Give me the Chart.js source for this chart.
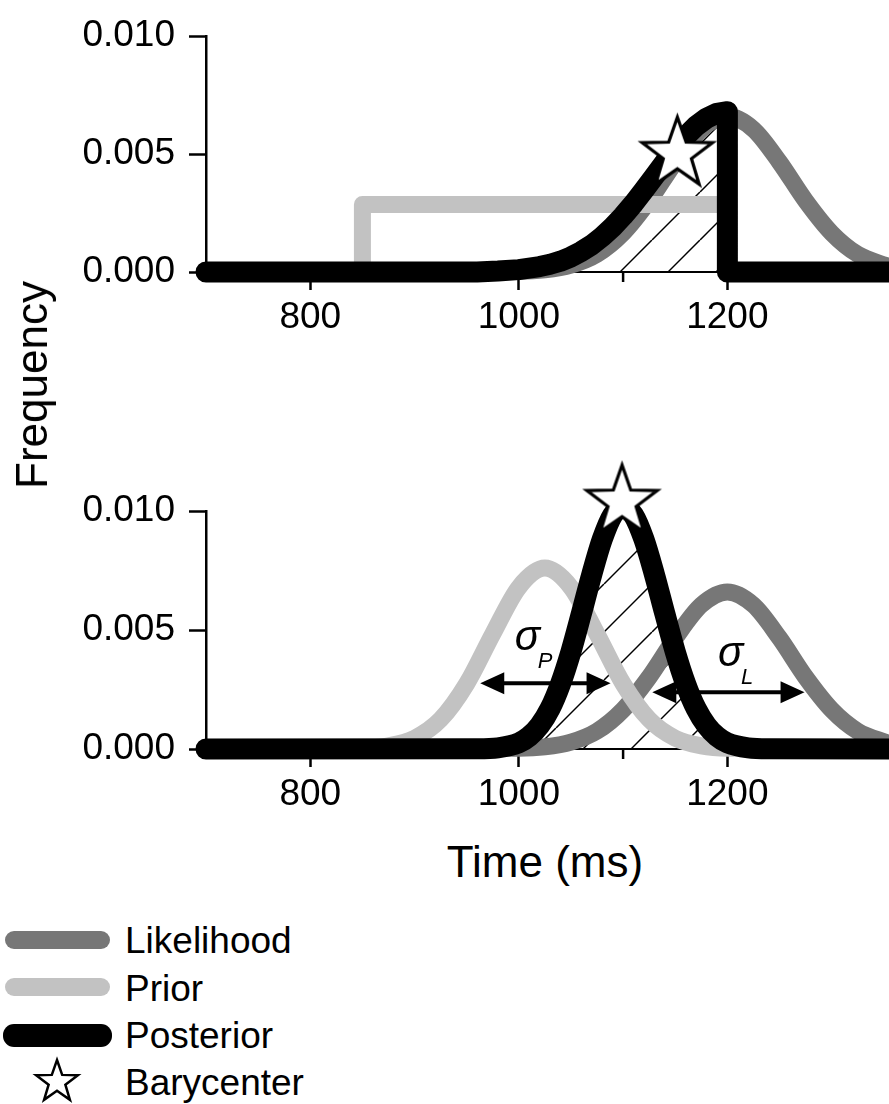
<!DOCTYPE html>
<html>
<head>
<meta charset="utf-8">
<script src="https://cdn.jsdelivr.net/npm/chart.js@4.4.1/dist/chart.umd.min.js"></script>
<style>
  html, body { margin: 0; padding: 0; background: #fff; overflow: hidden; }
  body { width: 889px; height: 1104px; position: relative; font-family: "Liberation Sans", Arial, sans-serif; color: #000; }
  canvas { position: absolute; left: 0; }
  #arriba { top: 0; }
  #abajo { top: 440px; }
  .titulo { position: absolute; white-space: nowrap; line-height: 1; font-size: 44px; }
  #ytitulo { left: 32px; top: 385px; transform: translate(-50%, -50%) rotate(-90deg); }
  #xtitulo { left: 545px; top: 840px; transform: translateX(-50%); }
  .muestra { position: absolute; }
  .leyenda { position: absolute; left: 125px; font-size: 37px; line-height: 37px; white-space: nowrap; }
</style>
</head>
<body>
<canvas id="arriba" width="889" height="340"></canvas>
<canvas id="abajo" width="889" height="377"></canvas>
<div class="titulo" id="ytitulo">Frequency</div>
<div class="titulo" id="xtitulo">Time (ms)</div>

<div class="muestra" style="left:5px;top:931px;width:105px;height:18px;border-radius:9px;background:#777"></div>
<div class="muestra" style="left:5px;top:978px;width:105px;height:18px;border-radius:9px;background:#c2c2c2"></div>
<div class="muestra" style="left:3px;top:1024px;width:109px;height:23px;border-radius:11px;background:#000"></div>
<div class="leyenda" style="top:922px">Likelihood</div>
<div class="leyenda" style="top:970px">Prior</div>
<div class="leyenda" style="top:1017px">Posterior</div>
<div class="leyenda" style="top:1064px">Barycenter</div>

<script>
// Ejes
const X_TICKS = [800, 1000, 1200];
const X_MENORES = [900, 1100, 1300];
const Y_TICKS = [0, 0.005, 0.01];

// Panel de arriba: prior uniforme
const arribaPriorX = [700, 850, 850, 1200, 1200, 1355];
const arribaPriorY = [0, 0, 0.00286, 0.00286, 0, 0];

// Verosimilitud (igual en los dos paneles)
const likX = [700, 1000, 1025, 1050, 1075, 1100, 1125, 1150, 1175, 1200, 1225, 1250, 1275, 1300, 1325, 1355];
const likY = [0, 0.00003, 0.00009, 0.00029, 0.00075, 0.00165, 0.00302, 0.00466, 0.00605, 0.0066, 0.00605, 0.00466, 0.00302, 0.00165, 0.00075, 0.00023];

// Panel de arriba: posterior (cortada en 1200)
const arribaPostX = [700, 960, 980, 1000, 1020, 1030, 1040, 1050, 1060, 1070, 1080, 1090, 1100, 1110, 1120, 1130, 1140, 1150, 1160, 1170, 1180, 1190, 1200, 1200, 1355];
const arribaPostY = [0, 0, 0.00004, 0.0001, 0.00023, 0.00033, 0.00046, 0.00064, 0.00087, 0.00115, 0.0015, 0.00191, 0.00238, 0.0029, 0.00347, 0.00406, 0.00466, 0.00523, 0.00575, 0.00619, 0.00652, 0.00673, 0.0068, 0, 0];

// Panel de abajo: prior gaussiano
const abajoPriorX = [700, 850, 875, 900, 925, 950, 975, 1000, 1025, 1050, 1075, 1100, 1125, 1150, 1175, 1200, 1355];
const abajoPriorY = [0, 0.00003, 0.00013, 0.00045, 0.00124, 0.00274, 0.00483, 0.00679, 0.0076, 0.00679, 0.00483, 0.00274, 0.00124, 0.00045, 0.00013, 0.00003, 0];

// Panel de abajo: posterior
const abajoPostX = [700, 960, 980, 1000, 1010, 1020, 1030, 1040, 1050, 1060, 1070, 1080, 1090, 1100, 1110, 1120, 1130, 1140, 1150, 1160, 1170, 1180, 1190, 1200, 1220, 1240, 1355];
const abajoPostY = [0, 0.00001, 0.00005, 0.00026, 0.00053, 0.00099, 0.0017, 0.00274, 0.00409, 0.00569, 0.00734, 0.00881, 0.00983, 0.0102, 0.00983, 0.00881, 0.00734, 0.00569, 0.00409, 0.00274, 0.0017, 0.00099, 0.00053, 0.00026, 0.00005, 0.00001, 0];

// Baricentros
const arribaBaricentro = [{ x: 1152, y: 0.0050 }];
const abajoBaricentro = [{ x: 1099, y: 0.01038 }];

// Flechas sigma (abajo)
const flechasX1 = [963, 1128];
const flechasX2 = [1088, 1274];
const flechasY = [0.00276, 0.00238];
const sigmaSub = ['P', 'L'];
const sigmaX = [996, 1191];
const sigmaY = [0.00414, 0.00347];

const FUENTE = '"Liberation Sans", Arial, sans-serif';

function pares(xs, ys) {
    return xs.map((x, i) => ({ x: x, y: ys[i] }));
}

// Estrella de cinco puntas para el baricentro
function hacerEstrella(R, lw) {
    const size = Math.ceil(2 * R + 4 * lw + 4);
    const c = document.createElement('canvas');
    c.width = c.height = size;
    const ctx = c.getContext('2d');
    const cx = size / 2, cy = size / 2;
    const r = R * 0.4;
    ctx.beginPath();
    for (let i = 0; i < 10; i++) {
        const rad = i % 2 === 0 ? R : r;
        const a = -Math.PI / 2 + i * Math.PI / 5;
        ctx.lineTo(cx + rad * Math.cos(a), cy + rad * Math.sin(a));
    }
    ctx.closePath();
    ctx.fillStyle = '#fff';
    ctx.fill();
    ctx.lineWidth = lw;
    ctx.lineJoin = 'miter';
    ctx.strokeStyle = '#000';
    ctx.stroke();
    return c;
}

// Rayado diagonal del area bajo la posterior
function hacerRayado(ctxDestino, fase) {
    const p = 48;
    const c = document.createElement('canvas');
    c.width = c.height = p;
    const ctx = c.getContext('2d');
    ctx.strokeStyle = '#000';
    ctx.lineWidth = 1.5;
    for (let s = fase - p; s <= fase + 2 * p; s += p) {
        ctx.beginPath();
        ctx.moveTo(s, 0);
        ctx.lineTo(s - p, p);
        ctx.stroke();
    }
    return ctxDestino.createPattern(c, 'repeat');
}

const marcasMenores = {
    id: 'marcasMenores',
    beforeDatasetsDraw(chart) {
        const ctx = chart.ctx, xs = chart.scales.x, y0 = chart.chartArea.bottom;
        ctx.save();
        ctx.strokeStyle = '#000';
        ctx.lineWidth = 2.5;
        X_MENORES.forEach(v => {
            const x = xs.getPixelForValue(v);
            ctx.beginPath();
            ctx.moveTo(x, y0);
            ctx.lineTo(x, y0 + 10);
            ctx.stroke();
        });
        ctx.restore();
    }
};

function punta(ctx, x, y, dir) {
    ctx.beginPath();
    ctx.moveTo(x, y);
    ctx.lineTo(x + dir * 24, y - 11);
    ctx.lineTo(x + dir * 24, y + 11);
    ctx.closePath();
    ctx.fill();
}

const anotaciones = {
    id: 'anotaciones',
    afterDatasetsDraw(chart) {
        const ctx = chart.ctx, xs = chart.scales.x, ys = chart.scales.y;
        ctx.save();
        ctx.fillStyle = '#000';
        ctx.strokeStyle = '#000';
        ctx.lineWidth = 4;
        flechasX1.forEach((v, i) => {
            const x1 = xs.getPixelForValue(v);
            const x2 = xs.getPixelForValue(flechasX2[i]);
            const y = ys.getPixelForValue(flechasY[i]);
            ctx.beginPath();
            ctx.moveTo(x1 + 20, y);
            ctx.lineTo(x2 - 20, y);
            ctx.stroke();
            punta(ctx, x1, y, 1);
            punta(ctx, x2, y, -1);
        });
        ctx.textBaseline = 'alphabetic';
        ctx.textAlign = 'left';
        sigmaSub.forEach((s, i) => {
            const x = xs.getPixelForValue(sigmaX[i]);
            const y = ys.getPixelForValue(sigmaY[i]);
            ctx.font = 'italic 42px ' + FUENTE;
            ctx.fillText('σ', x, y);
            ctx.font = 'italic 22px ' + FUENTE;
            ctx.fillText(s, x + 23, y + 18);
        });
        ctx.restore();
    }
};

function opciones(padTop) {
    return {
        responsive: false,
        animation: false,
        events: [],
        layout: { padding: { top: padTop, left: 0, right: 0, bottom: 0 }, autoPadding: false },
        plugins: {
            legend: { display: false },
            tooltip: { enabled: false },
            filler: { drawTime: 'beforeDatasetsDraw' }
        },
        elements: {
            point: { radius: 0 },
            line: { borderCapStyle: 'round', borderJoinStyle: 'round' }
        },
        scales: {
            x: {
                type: 'linear',
                min: 700,
                max: 1355,
                afterBuildTicks: s => { s.ticks = X_TICKS.map(v => ({ value: v })); },
                afterFit: s => { s.height = 68; },
                ticks: { font: { family: FUENTE, size: 37 }, color: '#000', padding: 6, maxRotation: 0, autoSkip: false, callback: v => String(v) },
                grid: { drawOnChartArea: false, drawTicks: true, tickLength: 18, tickWidth: 2.5, tickColor: '#000' },
                border: { display: true, color: '#000', width: 2 }
            },
            y: {
                min: 0,
                max: 0.01,
                afterBuildTicks: s => { s.ticks = Y_TICKS.map(v => ({ value: v })); },
                afterFit: s => { s.width = 206; },
                ticks: { font: { family: FUENTE, size: 37 }, color: '#000', padding: 14, callback: v => v.toFixed(3) },
                grid: { drawOnChartArea: false, drawTicks: true, tickLength: 17, tickWidth: 2.5, tickColor: '#000' },
                border: { display: true, color: '#000', width: 2.5 }
            }
        }
    };
}

const estrella = hacerEstrella(37, 3.2);

// Panel de arriba
const ctxArriba = document.getElementById('arriba').getContext('2d');
new Chart(ctxArriba, {
    type: 'line',
    data: {
        datasets: [
            { data: arribaBaricentro, showLine: false, pointStyle: estrella, pointRadius: 40, clip: false, order: 0 },
            { data: pares(arribaPostX, arribaPostY), borderColor: '#000', borderWidth: 21, tension: 0, fill: 'origin', backgroundColor: hacerRayado(ctxArriba, 28), clip: false, order: 1 },
            { data: pares(arribaPriorX, arribaPriorY), borderColor: '#c2c2c2', borderWidth: 17, tension: 0, fill: false, clip: false, order: 2 },
            { data: pares(likX, likY), borderColor: '#777', borderWidth: 17, cubicInterpolationMode: 'monotone', fill: false, clip: false, order: 3 }
        ]
    },
    options: opciones(33),
    plugins: [marcasMenores]
});

// Panel de abajo
const ctxAbajo = document.getElementById('abajo').getContext('2d');
new Chart(ctxAbajo, {
    type: 'line',
    data: {
        datasets: [
            { data: abajoBaricentro, showLine: false, pointStyle: estrella, pointRadius: 40, clip: false, order: 0 },
            { data: pares(abajoPostX, abajoPostY), borderColor: '#000', borderWidth: 21, cubicInterpolationMode: 'monotone', fill: 'origin', backgroundColor: hacerRayado(ctxAbajo, 28), clip: false, order: 1 },
            { data: pares(abajoPriorX, abajoPriorY), borderColor: '#c2c2c2', borderWidth: 17, cubicInterpolationMode: 'monotone', fill: false, clip: false, order: 2 },
            { data: pares(likX, likY), borderColor: '#777', borderWidth: 17, cubicInterpolationMode: 'monotone', fill: false, clip: false, order: 3 }
        ]
    },
    options: opciones(71),
    plugins: [marcasMenores, anotaciones]
});

// Estrella de la leyenda
const estrellaLeyenda = hacerEstrella(22, 2.5);
estrellaLeyenda.style.left = (57 - estrellaLeyenda.width / 2) + 'px';
estrellaLeyenda.style.top = (1082 - estrellaLeyenda.height / 2) + 'px';
document.body.appendChild(estrellaLeyenda);
</script>
</body>
</html>
